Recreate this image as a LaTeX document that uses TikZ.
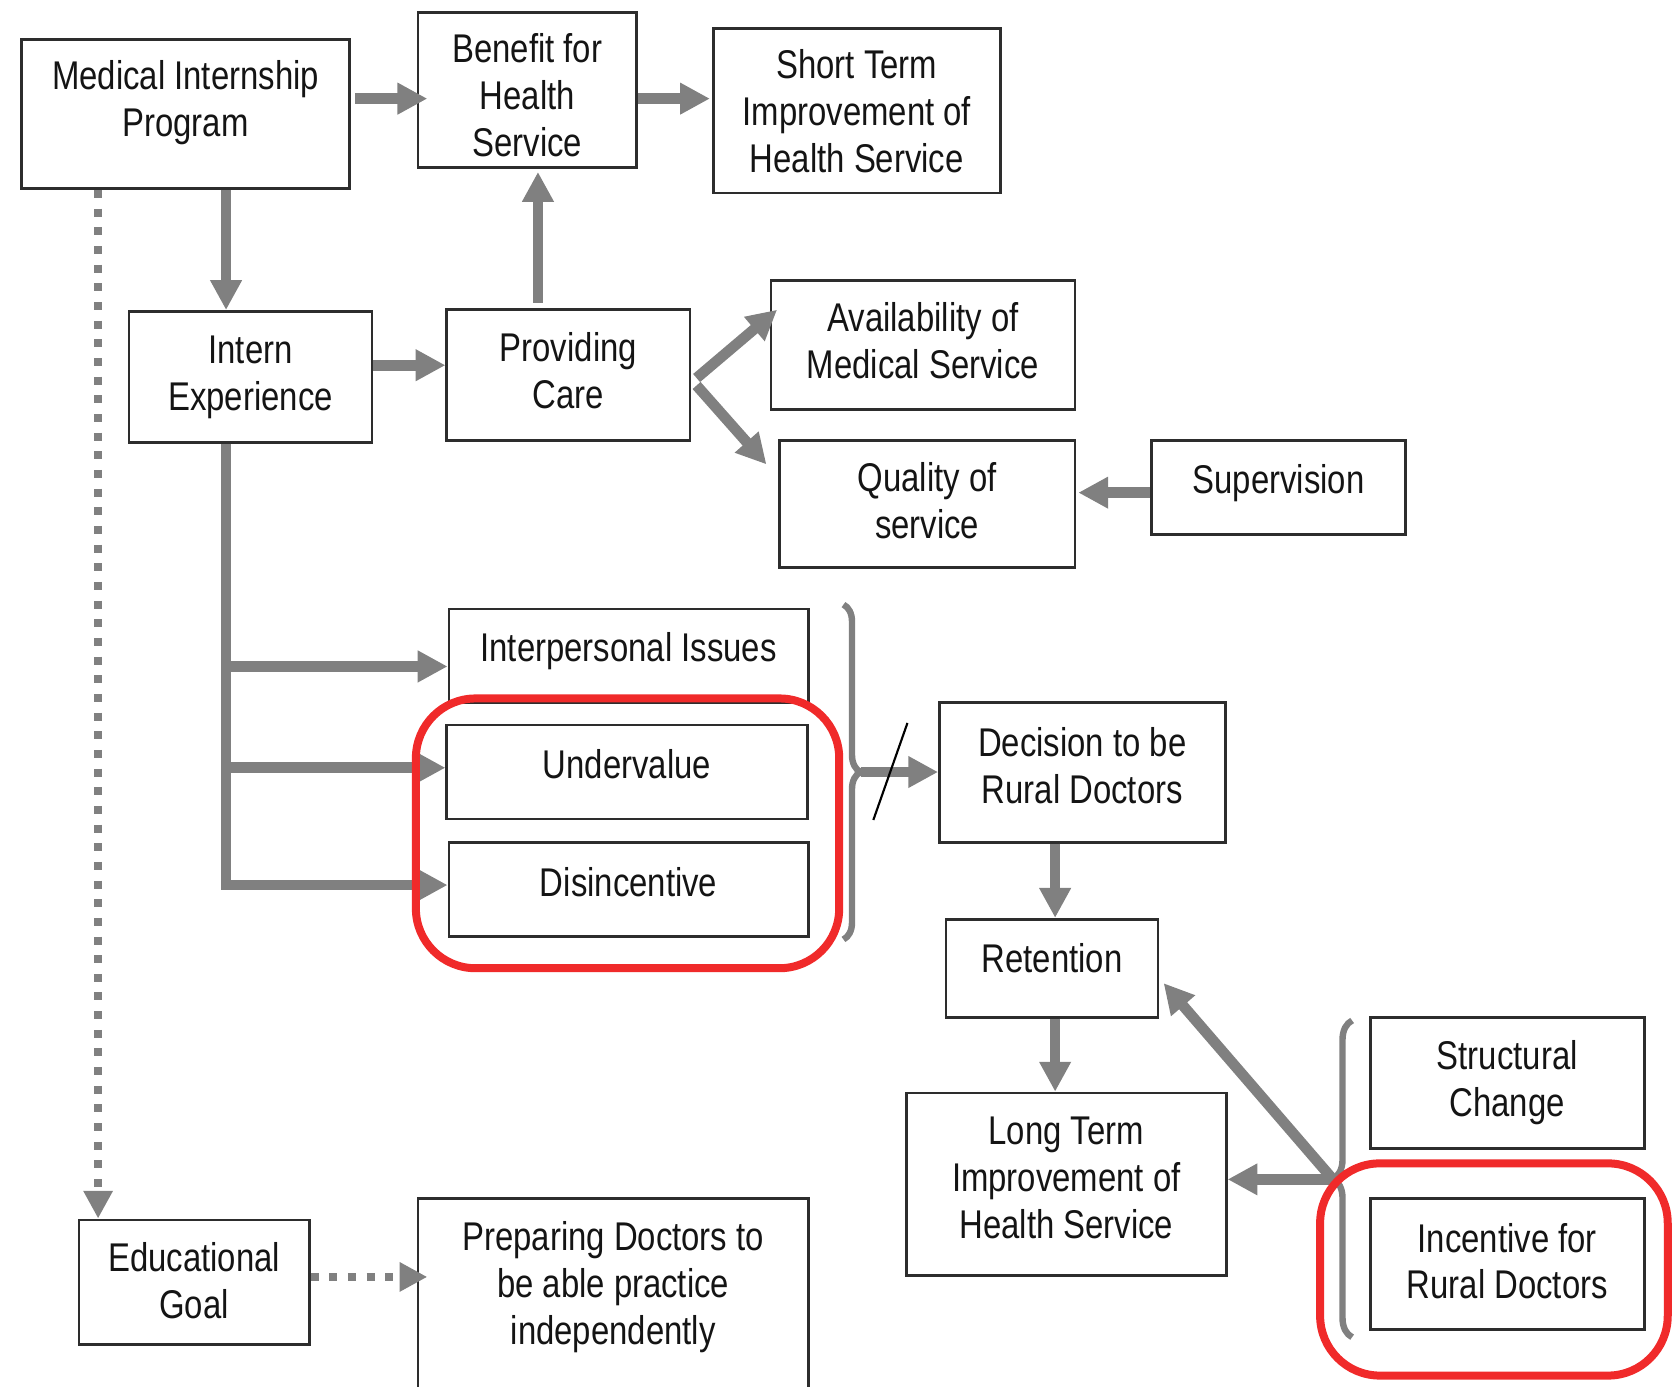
\documentclass[tikz,border=0pt]{standalone}
\usepackage{fontspec}
\setmainfont{Liberation Sans}[FakeStretch=0.82]
\usetikzlibrary{arrows.meta, calc, decorations.pathreplacing}
\definecolor{arrgray}{RGB}{128,128,128}
\definecolor{boxline}{RGB}{45,45,45}
\definecolor{txtgray}{RGB}{20,20,20}
\definecolor{hired}{RGB}{240,42,42}

\begin{document}
\begin{tikzpicture}[x=0.5pt, y=-0.5pt,
    box/.style={rectangle, draw=boxline, line width=1.25pt, align=center, inner sep=0pt, text=txtgray, font=\fontsize{18.8}{22}\selectfont},
    lift/.style={text depth=#1},
    arr/.style={draw=arrgray, line width=5pt, -{Triangle[length=14pt, width=14pt]}},
    dotarr/.style={draw=arrgray, line width=3.75pt, dash pattern=on 3.75pt off 5pt, -{Triangle[length=13pt, width=13pt]}},
    brc/.style={draw=arrgray, line width=3pt, decorate, decoration={brace, amplitude=8pt}},
    hilite/.style={draw=hired, line width=3.75pt, rounded corners=28pt},
    slash/.style={draw=black, line width=1pt}]

    \useasboundingbox (0,0) rectangle (1568,1300);

    \node[box, minimum width=154pt, minimum height=70pt] (mip) at (174,107) {Medical Internship\\Program\\[-7pt]\mbox{}};
    \node[box, minimum width=102.5pt, minimum height=72.5pt] (benefit) at (494.5,84.5) {\mbox{}\\[-3.3pt]Benefit for\\Health\\Service};
    \node[box, minimum width=134.5pt, minimum height=77pt] (short) at (803.5,104) {Short Term\\Improvement of\\Health Service};
    \node[box, minimum width=114pt, minimum height=61.5pt] (intern) at (235,353.5) {Intern\\Experience};
    \node[box, lift=4pt, minimum width=114pt, minimum height=61.5pt] (care) at (533,351.5) {Providing\\Care};
    \node[box, lift=4pt, minimum width=142.5pt, minimum height=60.5pt] (avail) at (865.5,323.5) {Availability of\\Medical Service};
    \node[box, lift=3pt, minimum width=138.5pt, minimum height=59.5pt] (quality) at (869.5,472.5) {Quality of\\service};
    \node[box, lift=8pt, minimum width=119pt, minimum height=44pt] (superv) at (1199,457) {Supervision};
    \node[box, lift=8pt, minimum width=168.5pt, minimum height=44pt] (inter) at (589.5,615) {Interpersonal Issues};
    \node[box, lift=8pt, minimum width=169pt, minimum height=44pt] (underv) at (588,724) {Undervalue};
    \node[box, lift=7pt, minimum width=168.5pt, minimum height=44pt] (disinc) at (589.5,834) {Disincentive};
    \node[box, lift=7pt, minimum width=134pt, minimum height=65.5pt] (decision) at (1015,724.5) {Decision to be\\Rural Doctors};
    \node[box, lift=10pt, minimum width=99.5pt, minimum height=46pt] (retention) at (986.5,908) {Retention};
    \node[box, lift=6pt, minimum width=150pt, minimum height=85.5pt] (longterm) at (1000,1110.5) {Long Term\\Improvement of\\Health Service};
    \node[box, minimum width=128.5pt, minimum height=61.5pt] (structural) at (1413.5,1015.5) {Structural\\Change};
    \node[box, lift=3pt, minimum width=128.5pt, minimum height=61.5pt] (incentive) at (1413.5,1185.5) {Incentive for\\Rural Doctors};
    \node[box, lift=2pt, minimum width=108pt, minimum height=58.5pt] (edu) at (182,1202.5) {Educational\\Goal};
    \node[box, minimum width=183pt, minimum height=91pt] (prep) at (575,1215) {Preparing Doctors to\\be able practice\\independently\\[-10pt]\mbox{}};

    \coordinate (spine) at (212,0);
    \coordinate (dotx) at (92,0);
    \coordinate (btip1) at (807,724);
    \coordinate (btip2) at (1250,1106);

    \draw[arr] ($(mip.east |- benefit.west)+(4,8)$) -- ($(benefit.west)+(10,8)$);
    \draw[arr] ($(benefit.east)+(0,8)$) -- ($(benefit.east -| short.west)+(-2,8)$);
    \draw[arr] (mip.south -| spine) -- (intern.north -| spine);
    \draw[arr] ($(care.north -| benefit.south)+(10,-5)$) -- ($(benefit.south)+(10,3)$);
    \draw[arr] ($(intern.east)+(0,-11)$) -- ($(intern.east -| care.west)+(0,-11)$);
    \draw[arr] ($(care.east)+(5,3)$) -- ($(avail.west)+(7,-33)$);
    \draw[arr] ($(care.east)+(5,10)$) -- ($(quality.west)+(-11,-37)$);
    \draw[arr] ($(superv.west)+(0,5)$) -- ($(superv.west -| quality.east)+(2,5)$);

    \draw[arr] (intern.south -| spine) |- ($(disinc.west)+(0,-4)$);
    \draw[arr] ($(inter.west -| spine)+(0,10)$) -- ($(inter.west)+(0,10)$);
    \draw[arr] ($(underv.west -| spine)+(0,-4)$) -- ($(underv.west)+(0,-4)$);

    \draw[brc] (791,567) -- (791,881);
    \draw[arr] (btip1) -- (btip1 -| decision.west);
    \draw[slash] (851,678) -- (819,769);
    \draw[arr] ($(retention.north |- decision.south)+(3,0)$) -- ($(retention.north)+(3,0)$);
    \draw[arr] ($(retention.south)+(3,0)$) -- ($(retention.south |- longterm.north)+(3,0)$);

    \draw[brc, decoration={brace, amplitude=9pt}] (1268,1254) -- (1268,957);
    \draw[arr] (btip2) -- (btip2 -| longterm.east);
    \draw[arr] (btip2) -- ($(retention.east)+(4,14)$);

    \draw[dotarr] (mip.south -| dotx) -- (edu.north -| dotx);
    \draw[dotarr] ($(edu.east)+(0,-5)$) -- ($(edu.east -| prep.west)+(10,-5)$);

    \draw[hilite] (390,655) rectangle (787,908);
    \draw[hilite] (1238,1091) rectangle (1564,1290);

\end{tikzpicture}
\end{document}
